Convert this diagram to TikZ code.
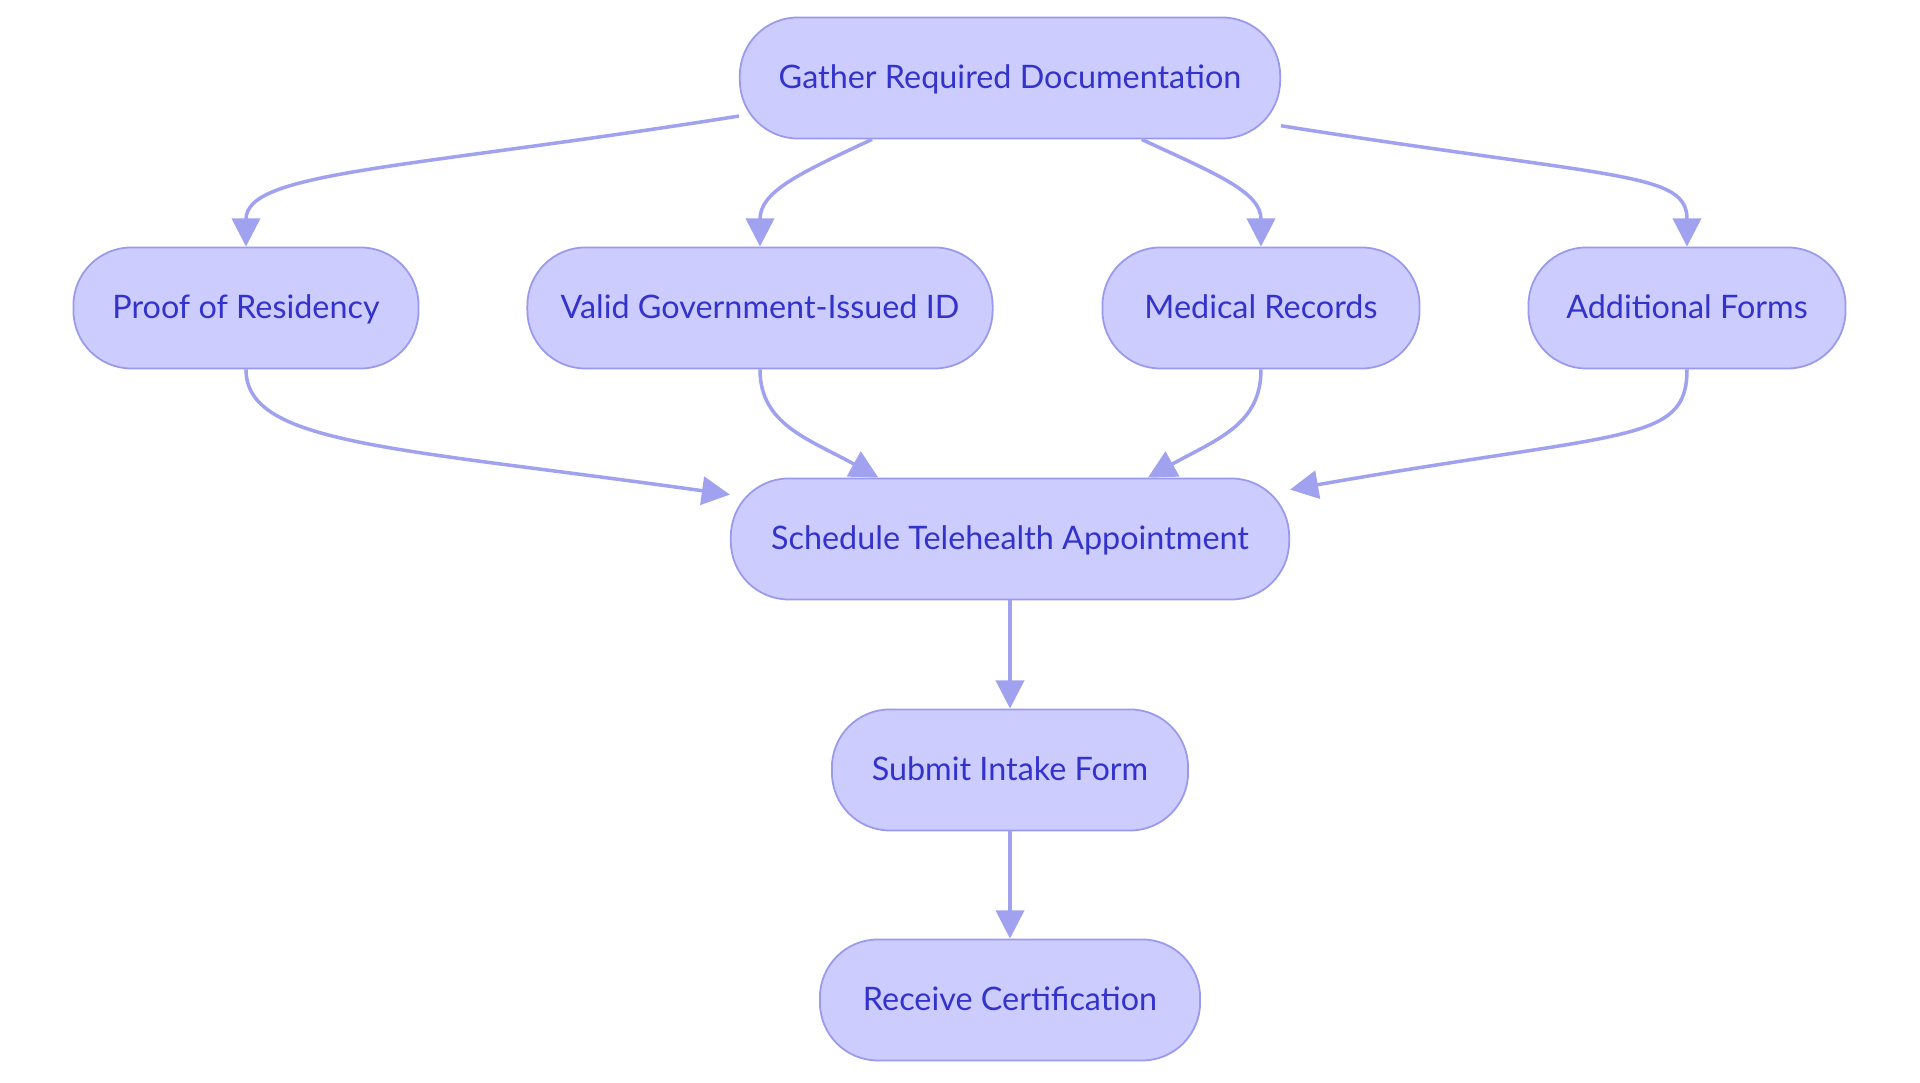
\documentclass[tikz,border=0pt]{standalone}
\usepackage{fontspec}
\setmainfont{Lato}
\usetikzlibrary{arrows.meta}

\definecolor{boxfill}{HTML}{CCCCFF}
\definecolor{boxline}{HTML}{9999EE}
\definecolor{boxtext}{HTML}{3333CC}
\definecolor{flowline}{HTML}{A0A2F0}

\begin{document}
\begin{tikzpicture}[x=0.01cm,y=0.01cm]

      \useasboundingbox (0,0) rectangle (1920,1083);

      \begin{scope}[every node/.style={draw=boxline,fill=boxfill,text=boxtext,line width=0.5pt,
          rounded corners=0.58cm,minimum height=1.21cm,inner sep=0pt,text height=7.4pt,text depth=1.6pt,
          font=\fontsize{9.2}{11}\selectfont}]
        \node[minimum width=5.40cm] (gather)     at (1010,1005) {Gather Required Documentation};
        \node[minimum width=3.45cm] (proof)      at (246,775)   {Proof of Residency};
        \node[minimum width=4.65cm] (valid)      at (760,775)   {Valid Government-Issued ID};
        \node[minimum width=3.17cm] (medical)    at (1261,775)  {Medical Records};
        \node[minimum width=3.17cm] (additional) at (1687,775)  {Additional Forms};
        \node[minimum width=5.58cm] (schedule)   at (1010,544)  {Schedule Telehealth Appointment};
        \node[minimum width=3.56cm] (submit)     at (1010,313)  {Submit Intake Form};
        \node[minimum width=3.80cm] (receive)    at (1010,83)   {Receive Certification};
      \end{scope}

      \begin{scope}[every edge/.style={draw=flowline,line width=1pt,-{Triangle[length=8pt,width=8pt]}}]

        % gather to the four documents
        \path (gather.188.7) edge[out=189,in=90,out distance=3.4cm,in distance=0.75cm] (proof);
        \path (gather.204.6) edge[out=205,in=90,out distance=0.8cm,in distance=0.55cm] (valid);
        \path (gather.335.4) edge[out=335,in=90,out distance=0.8cm,in distance=0.55cm] (medical);
        \path (gather.350.3) edge[out=351,in=90,out distance=3.4cm,in distance=0.75cm] (additional);

        % documents to schedule
        \path (proof)      edge[out=270,in=172,out distance=0.75cm,in distance=3.4cm] (schedule.171.3);
        \path (valid)      edge[out=270,in=151,out distance=0.55cm,in distance=0.8cm] (schedule.155.6);
        \path (medical)    edge[out=270,in=29,out distance=0.55cm,in distance=0.8cm]  (schedule.24.7);
        \path (additional) edge[out=270,in=10,out distance=0.75cm,in distance=3.4cm]  (schedule.10.1);

        \path (schedule) edge (submit);
        \path (submit)   edge (receive);

      \end{scope}

\end{tikzpicture}
\end{document}
